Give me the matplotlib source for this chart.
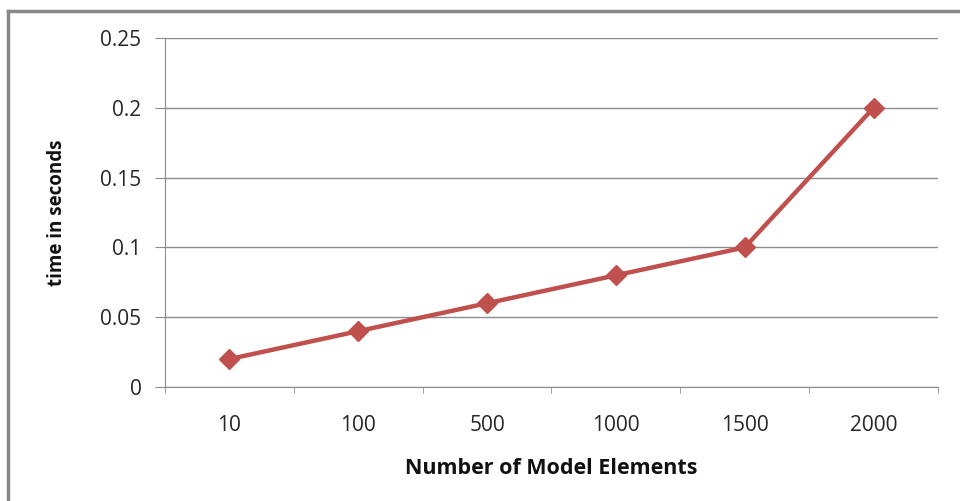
import matplotlib
matplotlib.use("Agg")
import matplotlib.pyplot as plt
from matplotlib.lines import Line2D

categories = ["10", "100", "500", "1000", "1500", "2000"]
times = [0.02, 0.04, 0.06, 0.08, 0.10, 0.20]
y_ticks = [0, 0.05, 0.1, 0.15, 0.2, 0.25]
y_tick_labels = ["0", "0.05", "0.1", "0.15", "0.2", "0.25"]

LINE_COLOR = "#C0504D"
AXIS_GRAY = "#8C8C8C"
TEXT_COLOR = "#262626"

plt.rcParams["font.family"] = ["Open Sans", "DejaVu Sans"]

fig = plt.figure(figsize=(9.6, 5.01), dpi=100)
ax = fig.add_axes([165 / 960, 1 - 387 / 501, (938 - 165) / 960, (387 - 38) / 501])

x = list(range(len(categories)))
ax.plot(x, times, color=LINE_COLOR, linewidth=3.2, marker="D", markersize=10,
        markerfacecolor=LINE_COLOR, markeredgecolor=LINE_COLOR, zorder=3)

ax.set_xlim(-0.5, len(categories) - 0.5)
ax.set_ylim(0, 0.25)
ax.set_yticks(y_ticks)
ax.set_yticklabels(y_tick_labels)
ax.yaxis.grid(True, color=AXIS_GRAY, linewidth=1)
ax.set_axisbelow(True)

# category labels centered, tick marks on category boundaries
ax.set_xticks(x)
ax.set_xticklabels(categories)
ax.tick_params(axis="x", length=0, pad=20, labelsize=15, labelcolor=TEXT_COLOR)
ax.set_xticks([i - 0.5 for i in range(len(categories) + 1)], minor=True)
ax.tick_params(axis="x", which="minor", length=4.5, color=AXIS_GRAY, direction="out")
ax.tick_params(axis="y", length=7, color=AXIS_GRAY, pad=10, labelsize=15, labelcolor=TEXT_COLOR)

for side in ("top", "right"):
    ax.spines[side].set_visible(False)
for side in ("left", "bottom"):
    ax.spines[side].set_color(AXIS_GRAY)

ax.set_xlabel("Number of Model Elements", fontsize=15.5, fontweight="bold", color="#111111")
ax.set_ylabel("time in seconds", fontsize=13.5, fontweight="bold", color="#111111")
ax.xaxis.set_label_coords(0.5, -81 / 349)
ax.xaxis.label.set_va("center")
ax.yaxis.set_label_coords(-108 / 773, 0.5)
ax.yaxis.label.set_va("center")

# outer chart frame (only top and left edges visible in the crop)
fig.add_artist(Line2D([8 / 960, 1], [1 - 11 / 501] * 2, color="#888888", linewidth=2.5,
                      transform=fig.transFigure))
fig.add_artist(Line2D([8 / 960] * 2, [0, 1 - 11 / 501], color="#888888", linewidth=2.5,
                      transform=fig.transFigure))

fig.savefig("out.png", dpi=100, facecolor="white")
